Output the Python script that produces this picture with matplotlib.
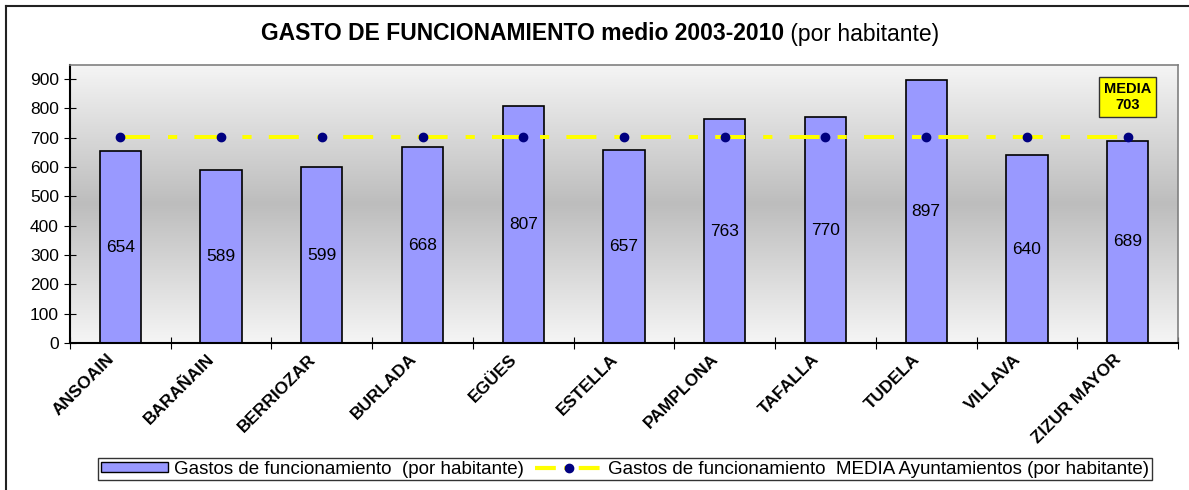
import numpy as np
import matplotlib
matplotlib.use("Agg")
import matplotlib.pyplot as plt
from matplotlib.colors import LinearSegmentedColormap
from matplotlib.lines import Line2D
from matplotlib.patches import Patch
from matplotlib.transforms import ScaledTranslation

municipios = ["ANSOAIN", "BARAÑAIN", "BERRIOZAR", "BURLADA", "EGÜES", "ESTELLA",
              "PAMPLONA", "TAFALLA", "TUDELA", "VILLAVA", "ZIZUR MAYOR"]
gastos = [654, 589, 599, 668, 807, 657, 763, 770, 897, 640, 689]
media = 703
media_vals = [media] * len(municipios)

plt.rcParams['font.family'] = ['Liberation Sans', 'DejaVu Sans']

fig = plt.figure(figsize=(11.89, 4.90), dpi=100)
ax = fig.add_axes([70/1189, 1 - 343/490, (1178-70)/1189, (343-65)/490])

x = np.arange(len(municipios))
ymax = 948

# gradient background
cmap = LinearSegmentedColormap.from_list("bg", ["#f5f5f5", "#bdbdbd", "#f5f5f5"])
grad = np.linspace(0, 1, 256).reshape(-1, 1)
ax.imshow(grad, extent=[-0.5, 10.5, 0, ymax], aspect='auto', cmap=cmap,
          origin='lower', zorder=0)

ax.bar(x, gastos, width=0.41, color='#9999ff', edgecolor='black', linewidth=1.2,
       zorder=2)
for xi, v in zip(x, gastos):
    ax.text(xi, v/2, str(v), ha='center', va='center', fontsize=12.5, zorder=3)

ax.plot(x, media_vals, color='#ffff00', linewidth=4*0.72,
        linestyle=(0, (7.5, 4.5, 2.3, 4.3)), zorder=3)
ax.plot(x, media_vals, linestyle='none', marker='o', markersize=6,
        color='#000080', zorder=4)

ax.text(10, 838, "MEDIA\n703", ha='center', va='center', fontsize=10.5,
        fontweight='bold', linespacing=1.15, zorder=5,
        bbox=dict(boxstyle='square,pad=0.35', facecolor='#ffff00',
                  edgecolor='#333333', linewidth=1))

ax.set_xlim(-0.5, 10.5)
ax.set_ylim(0, ymax)
ax.set_yticks(np.arange(0, 1000, 100))
ax.tick_params(axis='y', direction='inout', length=8, labelsize=12.5, pad=4)
ax.set_xticks(np.arange(-0.5, 11, 1))
ax.set_xticklabels([])
ax.tick_params(axis='x', which='major', direction='inout', length=8)
ax.set_xticks(x, minor=True)
ax.set_xticklabels(municipios, minor=True, rotation=45, ha='right',
                   rotation_mode='anchor', fontsize=12.5, fontweight='bold')
ax.tick_params(axis='x', which='minor', length=0, pad=6)
for lab in ax.get_xticklabels(minor=True):
    lab.set_transform(lab.get_transform() + ScaledTranslation(-0.14, 0, fig.dpi_scale_trans))

for s in ['left', 'bottom']:
    ax.spines[s].set_color('black')
    ax.spines[s].set_linewidth(1.5)
for s in ['top', 'right']:
    ax.spines[s].set_color('#808080')
    ax.spines[s].set_linewidth(1.2)

# title in two parts: bold + regular
t1 = fig.text(0, 0, "GASTO DE FUNCIONAMIENTO medio 2003-2010", fontsize=16.5,
              fontweight='bold', va='center')
t2 = fig.text(0, 0, " (por habitante)", fontsize=16.5, va='center')
fig.canvas.draw()
r = fig.canvas.get_renderer()
w1 = t1.get_window_extent(r).width
w2 = t2.get_window_extent(r).width
x0 = 600 - (w1 + w2) / 2
t1.set_position((x0/1189, 1 - 34/490))
t2.set_position(((x0 + w1)/1189, 1 - 34/490))

handles = [Patch(facecolor='#9999ff', edgecolor='black', linewidth=1),
           Line2D([0], [0], color='#ffff00', linewidth=3, linestyle=(0, (5, 2, 1.5, 2)),
                  marker='o', markersize=6, markerfacecolor='#000080',
                  markeredgecolor='#000080')]
labels = ['Gastos de funcionamiento  (por habitante)',
          'Gastos de funcionamiento  MEDIA Ayuntamientos (por habitante)']
leg = fig.legend(handles, labels, loc='center', bbox_to_anchor=(625/1189, 1 - 469/490),
                 ncol=2, fontsize=13.5, frameon=True, fancybox=False,
                 edgecolor='black', handlelength=3.6, handleheight=0.5,
                 borderpad=0.15, columnspacing=0.6, handletextpad=0.3)
leg.get_frame().set_linewidth(1)

fig.add_artist(Line2D([6/1189, 6/1189], [0, 1 - 6/490], color='#222222',
                      linewidth=1.5, transform=fig.transFigure))
fig.add_artist(Line2D([6/1189, 1], [1 - 6/490, 1 - 6/490], color='#222222',
                      linewidth=1.5, transform=fig.transFigure))

fig.savefig("out.png", dpi=100)
